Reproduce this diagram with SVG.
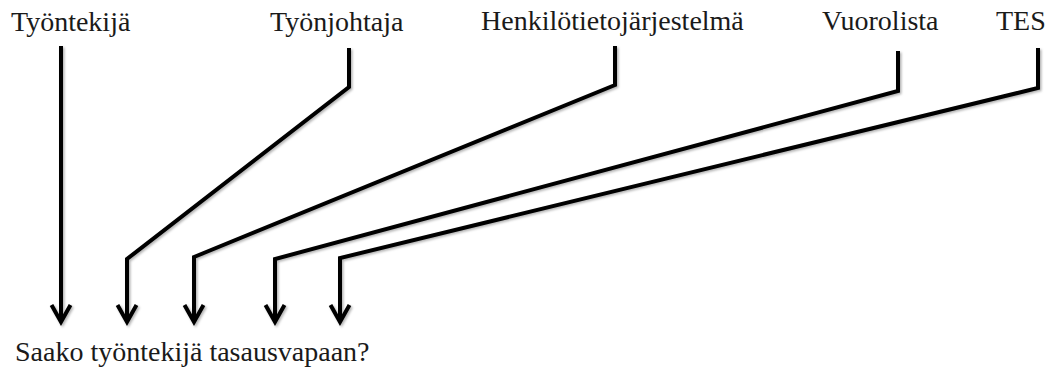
<svg xmlns="http://www.w3.org/2000/svg" width="1059" height="372" viewBox="0 0 1059 372">
  <style>
    .label { font-family: "Liberation Serif", "Times New Roman", serif; font-size: 28px; fill: #1a1a1a; }
    .wire { fill: none; stroke: #000; stroke-width: 4; stroke-linejoin: miter; marker-end: url(#head); }
  </style>
  <defs>
    <!-- open chevron arrowhead -->
    <marker id="head" markerUnits="userSpaceOnUse" viewBox="-22 -14 26 28" markerWidth="26" markerHeight="28" refX="0" refY="0" orient="auto" overflow="visible">
      <path d="M-17,-9.5 L0,0 L-17,9.5" fill="none" stroke="#000" stroke-width="4" stroke-linejoin="miter"/>
    </marker>
    <filter id="soft" x="-5%" y="-5%" width="115%" height="115%">
      <feDropShadow dx="1.5" dy="1.5" stdDeviation="1" flood-color="#000" flood-opacity="0.3"/>
    </filter>
  </defs>

  <!-- sources -->
  <g id="tyontekija"><text class="label" x="11" y="31">Työntekijä</text></g>
  <g id="tyonjohtaja"><text class="label" x="270" y="31">Työnjohtaja</text></g>
  <g id="henkilotietojarjestelma"><text class="label" x="481" y="30">Henkilötietojärjestelmä</text></g>
  <g id="vuorolista"><text class="label" x="822" y="30">Vuorolista</text></g>
  <g id="tes"><text class="label" x="996" y="30">TES</text></g>

  <!-- question -->
  <g id="kysymys"><text class="label" x="15" y="361">Saako työntekijä tasausvapaan?</text></g>

  <!-- connectors -->
  <g id="connectors" filter="url(#soft)">
    <polyline class="wire" points="61,46 61,322"/>
    <polyline class="wire" points="349,48 349,87 127,259 127,322"/>
    <polyline class="wire" points="615,46 615,85 194,257 194,322"/>
    <polyline class="wire" points="898,51 898,91 275,259 275,322"/>
    <polyline class="wire" points="1038,48 1038,88 340,258 340,322"/>
  </g>
</svg>
